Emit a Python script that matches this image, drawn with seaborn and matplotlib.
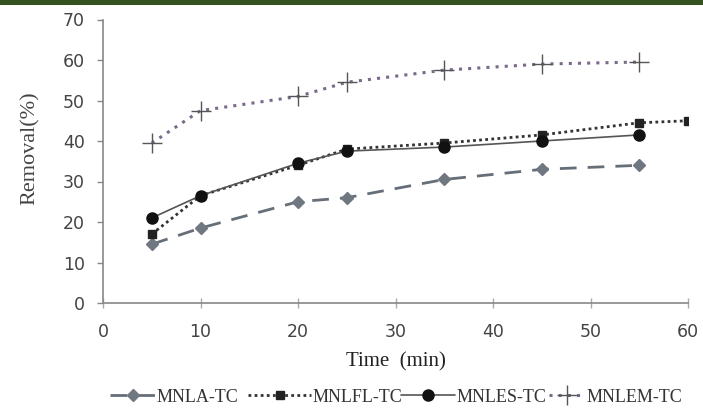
import matplotlib
matplotlib.use("Agg")
import matplotlib.pyplot as plt
import seaborn as sns
import pandas as pd
from matplotlib.patches import Rectangle

time_a = [5, 10, 20, 25, 35, 45, 55]
mnla_tc = [14.5, 18.5, 25.0, 26.0, 30.5, 33.0, 34.0]
time_fl = [5, 10, 20, 25, 35, 45, 55, 60]
mnlfl_tc = [17.0, 26.5, 34.0, 38.0, 39.5, 41.5, 44.5, 45.0]
time_es = [5, 10, 20, 25, 35, 45, 55]
mnles_tc = [21.0, 26.5, 34.5, 37.5, 38.5, 40.0, 41.5]
time_em = [5, 10, 20, 25, 35, 45, 55]
mnlem_tc = [39.5, 47.5, 51.0, 54.5, 57.5, 59.0, 59.5]
series_names = ["MNLA-TC", "MNLFL-TC", "MNLES-TC", "MNLEM-TC"]
legend_labels = ["MNLA-TC", "MNLFL-TC", "MNLES-TC", "MNLEM-TC"]

frames = []
for name, t, v in zip(series_names, [time_a, time_fl, time_es, time_em],
                      [mnla_tc, mnlfl_tc, mnles_tc, mnlem_tc]):
    frames.append(pd.DataFrame({"time": t, "removal": v, "series": name}))
df = pd.concat(frames, ignore_index=True)

sns.set_theme(style="white")
fig = plt.figure(figsize=(7.03, 4.08), dpi=100)
ax = fig.add_axes([103 / 703, 1 - 303 / 408, 585 / 703, (303 - 19.5) / 408])

styles = {
    "MNLA-TC": dict(color="#666e78", ls=(0, (6, 4)), marker="D", ms=6, lw=2.0, mfc="#6f7780", mec="#6f7780"),
    "MNLFL-TC": dict(color="#333333", ls=(0, (1, 1.2)), marker="s", ms=6, lw=2.0, mfc="#222222", mec="#222222"),
    "MNLES-TC": dict(color="#555555", ls="-", marker="o", ms=8, lw=1.2, mfc="#111111", mec="#111111"),
    "MNLEM-TC": dict(color="#7a6a8a", ls=(0, (1, 2)), marker="+", ms=14, lw=2.2, mfc="#555555", mec="#555555"),
}

handles = []
for name in series_names:
    st = styles[name]
    sub = df[df["series"] == name]
    sns.lineplot(data=sub, x="time", y="removal", ax=ax, color=st["color"],
                 linestyle=st["ls"], linewidth=st["lw"], marker=st["marker"],
                 markersize=st["ms"], markerfacecolor=st["mfc"],
                 markeredgecolor=st["mec"], markeredgewidth=1.0, legend=False)
    handles.append(ax.lines[-1])

ax.set_xlim(0, 60)
ax.set_ylim(0, 70)
ax.set_xticks(range(0, 61, 10))
ax.set_yticks(range(0, 71, 10))
for s in ["top", "right"]:
    ax.spines[s].set_visible(False)
for s in ["left", "bottom"]:
    ax.spines[s].set_color("#888888")
    ax.spines[s].set_linewidth(1.2)
ax.tick_params(axis="y", which="both", direction="out", length=4, width=1,
               color="#888888", labelsize=12.5, labelcolor="#444444", left=True, pad=9)
ax.tick_params(axis="x", which="both", direction="inout", length=7, width=1,
               color="#aaaaaa", labelsize=12.5, labelcolor="#444444", bottom=True, pad=11)
ax.set_xlabel("Time  (min)", family="Liberation Serif", fontsize=15, color="#222222", labelpad=8)
ax.set_ylabel("Removal(%)", family="Liberation Serif", fontsize=16, color="#444444")
ax.yaxis.set_label_coords(-0.108, 0.547)

# legend entries placed like the original (one per entry)
fs_pt = 13
fs_px = fs_pt * 100 / 72
text_x = [157, 313, 457, 587]
leg_hl = [2.5, 3.5, 3.0, 2.0]
pad = 0.1
for h, lab, tx, hl in zip(handles, legend_labels, text_x, leg_hl):
    x0 = tx - (hl + pad) * fs_px
    lg = fig.legend([h], [lab], loc="center left", bbox_to_anchor=(x0 / 703, 1 - 397 / 408),
                    frameon=False, handlelength=hl, handletextpad=pad, borderpad=0,
                    borderaxespad=0, prop={"family": "Liberation Serif", "size": fs_pt})
    for t in lg.get_texts():
        t.set_color("#333333")

fig.add_artist(Rectangle((0, 1 - 5 / 408), 1, 5 / 408, transform=fig.transFigure,
                         facecolor="#33521f", edgecolor="none"))

fig.savefig("out.png", dpi=100)
